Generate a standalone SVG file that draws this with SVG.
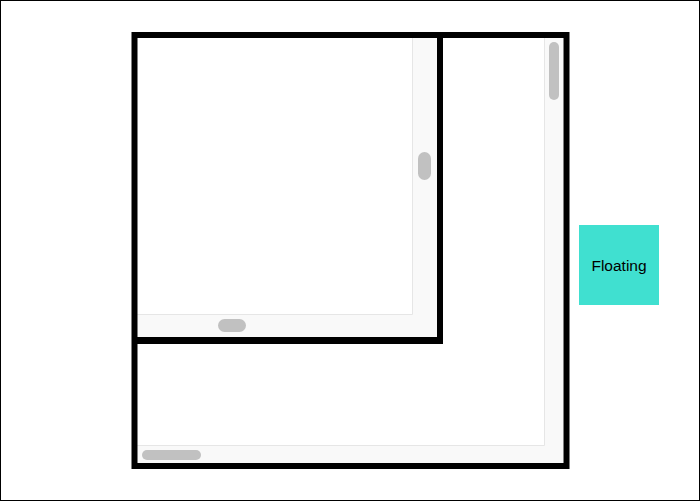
<svg xmlns="http://www.w3.org/2000/svg" width="700" height="501" viewBox="0 0 700 501">
<style>
.track{fill:#f9f9f9}
.tline{stroke:#e6e6e6;stroke-width:1;fill:none}
.thumb{fill:#c1c1c1}
.border{fill:#000}
.lbl{font-family:"Liberation Sans",Arial,sans-serif;font-size:15.5px;fill:#000;text-anchor:middle}
</style>
<rect x="0.5" y="0.5" width="699" height="500" fill="#fff" stroke="#000" stroke-width="1"/>
<g id="outer">
  <rect x="137" y="38" width="426" height="425" fill="#fff"/>
  <rect class="track" x="544" y="38" width="19" height="425"/>
  <rect class="track" x="137" y="445" width="426" height="18"/>
  <path class="tline" d="M544.5,38 V445.5 H137"/>
  <rect class="thumb" x="549" y="42" width="10" height="58" rx="5"/>
  <rect class="thumb" x="142" y="450" width="59" height="10" rx="5"/>
</g>
<g id="inner">
  <rect x="137" y="38" width="276" height="276" fill="#fff"/>
  <rect class="track" x="412" y="38" width="25" height="299"/>
  <rect class="track" x="137" y="314" width="300" height="23"/>
  <path class="tline" d="M412.5,38 V314.5 H137"/>
  <rect class="thumb" x="418" y="152" width="13" height="28" rx="6.5"/>
  <rect class="thumb" x="218" y="319" width="28" height="13" rx="6.5"/>
  <rect class="border" x="437" y="38" width="6" height="306"/>
  <rect class="border" x="137" y="337" width="306" height="7"/>
</g>
<g id="outer-border">
  <rect x="134.5" y="35" width="432" height="431" fill="none" stroke="#000" stroke-width="6"/>
</g>
<g id="floating">
  <rect x="579" y="225" width="80" height="80" fill="#40e0d0"/>
  <text class="lbl" x="619" y="270.5">Floating</text>
</g>
</svg>
